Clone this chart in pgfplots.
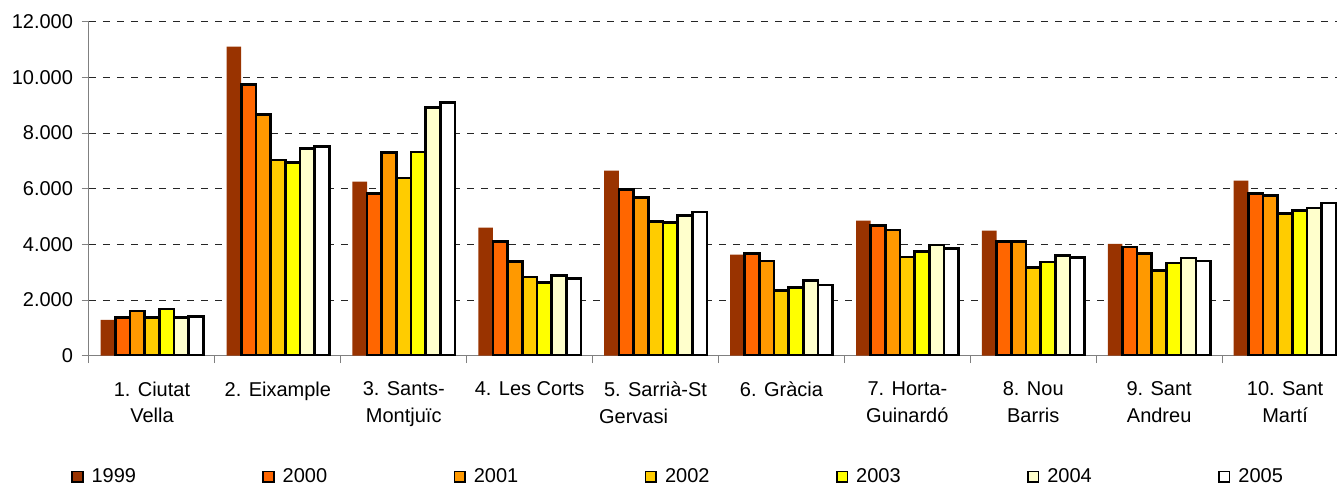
\documentclass[border=0pt]{standalone}
\usepackage{pgfplots}
\usepackage{pgfplotstable}
\usepackage{fontspec}
\setmainfont{Liberation Sans}
\pgfplotsset{compat=1.18}

\definecolor{c1999}{HTML}{993300}
\definecolor{c2000}{HTML}{FF6600}
\definecolor{c2001}{HTML}{FF9900}
\definecolor{c2002}{HTML}{FFCC00}
\definecolor{c2003}{HTML}{FFFF00}
\definecolor{c2004}{HTML}{FFFFCC}
\definecolor{c2005}{HTML}{FFFFFF}

% districte, anys 1999-2005
\pgfplotstableread{
x  a    b    c    d    e    f    g
1  1290 1370 1600 1370 1680 1380 1410
2  11100 9740 8660 7030 6940 7440 7520
3  6250 5820 7300 6380 7320 8920 9100
4  4600 4110 3390 2830 2640 2890 2770
5  6650 5980 5680 4820 4790 5030 5160
6  3630 3670 3400 2350 2440 2710 2540
7  4850 4670 4520 3550 3750 3980 3860
8  4490 4110 4110 3170 3370 3610 3520
9  4020 3900 3670 3070 3330 3510 3400
10 6290 5820 5760 5110 5210 5310 5490
}\datatable

\begin{document}
\begin{tikzpicture}
\begin{axis}[
    scale only axis,
    width=944.25pt,
    height=250.5pt,
    ybar=0pt,
    bar width=11pt,
    xmin=0.5, xmax=10.5,
    ymin=0, ymax=12000,
    enlarge x limits=false,
    xtick={0.5,1.5,...,10.5},
    x tick label as interval,
    xticklabels={1. Ciutat\\Vella,2. Eixample,3. Sants-\\Montjuïc,4. Les Corts,5. Sarrià-St\\Gervasi\hspace*{33pt},6. Gràcia,7. Horta-\\Guinardó,8. Nou\\Barris,9. Sant\\Andreu,10. Sant\\Martí},
    ytick={0,2000,...,12000},
    scaled y ticks=false,
    axis x line*=bottom,
    axis y line*=left,
    axis line style={gray, line width=0.75pt},
    tick style={gray, line width=0.75pt},
    tick align=outside,
    major tick length=5.5pt,
    ymajorgrids,
    major grid style={black!85, line width=0.75pt, dash pattern=on 5pt off 5.5pt},
    tick label style={font=\fontsize{15}{20}\selectfont},
    xticklabel style={align=center, anchor=north, yshift=-10.5pt},
    yticklabel style={xshift=-3pt, /pgf/number format/fixed, /pgf/number format/1000 sep={.}},
    /pgf/number format/assume math mode=true,
    legend columns=7,
    legend image code/.code={\draw[#1, line width=1.2pt] (0pt,-4pt) rectangle (8pt,4pt);},
    legend style={draw=none, inner sep=0pt, anchor=west,
        at={(-0.0143,-0.363)},
        font=\fontsize{15}{16.5}\selectfont,
        /tikz/every odd column/.style={column sep=4pt},
        /tikz/every even column/.style={column sep=92.8pt}},
]
\addplot[fill=c1999, draw=none] table[x=x, y=a] \datatable;
\addplot[fill=c2000, draw=black, line width=2pt] table[x=x, y=b] \datatable;
\addplot[fill=c2001, draw=black, line width=2pt] table[x=x, y=c] \datatable;
\addplot[fill=c2002, draw=black, line width=2pt] table[x=x, y=d] \datatable;
\addplot[fill=c2003, draw=black, line width=2pt] table[x=x, y=e] \datatable;
\addplot[fill=c2004, draw=black, line width=2pt] table[x=x, y=f] \datatable;
\addplot[fill=c2005, draw=black, line width=2pt] table[x=x, y=g] \datatable;
\legend{1999,2000,2001,2002,2003,2004,2005}
\end{axis}
\pgfresetboundingbox
\path[use as bounding box] (-66.75pt,-98.5pt) rectangle (936pt,266.75pt);
\end{tikzpicture}
\end{document}
